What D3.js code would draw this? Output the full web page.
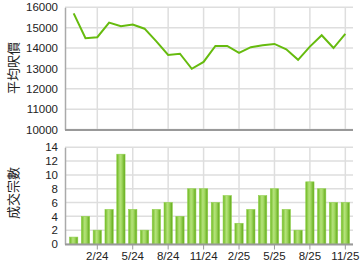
<!DOCTYPE html>
<html><head><meta charset="utf-8">
<script src="https://cdn.jsdelivr.net/npm/d3@7"></script>
<style>body{margin:0;background:#fff}svg{display:block}</style>
</head><body>
<script>
const months = ["12/23","1/24","2/24","3/24","4/24","5/24","6/24","7/24","8/24","9/24","10/24","11/24","12/24","1/25","2/25","3/25","4/25","5/25","6/25","7/25","8/25","9/25","10/25","11/25"];
const avgPrice = [15700,14480,14530,15250,15070,15150,14950,14330,13660,13720,12980,13320,14100,14100,13760,14040,14140,14200,13940,13420,14070,14630,14000,14690];
const volume = [1,4,2,5,13,5,2,5,6,4,8,8,6,7,3,5,7,8,5,2,9,8,6,6];
const tickLabels = ["2/24","5/24","8/24","11/24","2/25","5/25","8/25","11/25"];
const priceTicks = [10000,11000,12000,13000,14000,15000,16000];
const volTicks = [0,2,4,6,8,10,12,14];

const W=360,H=270;
const svg=d3.select("body").append("svg").attr("width",W).attr("height",H);
const defs=svg.append("defs");
const g=defs.append("linearGradient").attr("id","bar").attr("x1","0").attr("x2","1").attr("y1","0").attr("y2","0");
g.append("stop").attr("offset","0").attr("stop-color","#6cb81e");
g.append("stop").attr("offset","0.4").attr("stop-color","#b4e27a");
g.append("stop").attr("offset","0.6").attr("stop-color","#a2d862");
g.append("stop").attr("offset","1").attr("stop-color","#5fa816");

const x=d3.scaleBand().domain(months).range([66,353]).padding(0.3);
const xc=d=>x(d)+x.bandwidth()/2;
const L=65,R=353;
const font="'Liberation Sans', Arial, sans-serif";

function grid(y,ticks,top,bottom){
  const gg=svg.append("g");
  gg.selectAll("line.h").data(ticks).enter().append("line")
    .attr("x1",L).attr("x2",R).attr("y1",d=>y(d)).attr("y2",d=>y(d))
    .attr("stroke","#dedede").attr("stroke-width",1.5);
  gg.selectAll("line.v").data(tickLabels).enter().append("line")
    .attr("x1",d=>xc(d)).attr("x2",d=>xc(d)).attr("y1",top).attr("y2",bottom)
    .attr("stroke","#dedede").attr("stroke-width",1.5);
}

// top chart
const y1=d3.scaleLinear().domain([10000,16000]).range([129.5,7.3]);
grid(y1,priceTicks,7.3,129.5);
const ax1=svg.append("g").attr("transform",`translate(${L},0)`)
  .call(d3.axisLeft(y1).tickValues(priceTicks).tickSize(0).tickPadding(7).tickFormat(d3.format("d")));
ax1.select(".domain").attr("stroke","#aaa").attr("stroke-width",1.5);
ax1.selectAll("text").attr("font-family",font).attr("font-size",11.5).attr("fill","#222");
svg.append("line").attr("x1",L).attr("x2",R).attr("y1",130).attr("y2",130).attr("stroke","#999").attr("stroke-width",2);
svg.append("path").datum(avgPrice)
  .attr("d",d3.line().x((d,i)=>xc(months[i])).y(d=>y1(d)))
  .attr("fill","none").attr("stroke","#66bb0e").attr("stroke-width",2);

// bottom chart
const y2=d3.scaleLinear().domain([0,14]).range([244,147.3]);
grid(y2,volTicks,147.3,244);
svg.append("g").selectAll("rect").data(volume).enter().append("rect")
  .attr("x",(d,i)=>x(months[i])).attr("width",x.bandwidth())
  .attr("y",d=>y2(d)).attr("height",d=>y2(0)-y2(d))
  .attr("fill","url(#bar)").attr("stroke","#8fcf4a").attr("stroke-width",0.6);
const ax2=svg.append("g").attr("transform",`translate(${L},0)`)
  .call(d3.axisLeft(y2).tickValues(volTicks).tickSize(0).tickPadding(7));
ax2.select(".domain").attr("stroke","#aaa").attr("stroke-width",1.5);
ax2.selectAll("text").attr("font-family",font).attr("font-size",11.5).attr("fill","#222");
const ax3=svg.append("g").attr("transform","translate(0,244.5)")
  .call(d3.axisBottom(x).tickValues(tickLabels).tickSize(5).tickPadding(2));
ax3.select(".domain").remove();
ax3.selectAll("line").attr("stroke","#999");
ax3.selectAll("text").attr("font-family",font).attr("font-size",11.5).attr("fill","#222");
svg.append("line").attr("x1",L).attr("x2",R).attr("y1",244.5).attr("y2",244.5).attr("stroke","#999").attr("stroke-width",2);

// axis titles
const cjk="'Noto Sans CJK TC', sans-serif";
svg.append("text").attr("transform","translate(18,68) rotate(-90)").attr("text-anchor","middle")
  .attr("font-family",cjk).attr("font-size",13).attr("fill","#222").text("平均呎價");
svg.append("text").attr("transform","translate(18,193) rotate(-90)").attr("text-anchor","middle")
  .attr("font-family",cjk).attr("font-size",13).attr("fill","#222").text("成交宗數");
</script>
</body></html>
